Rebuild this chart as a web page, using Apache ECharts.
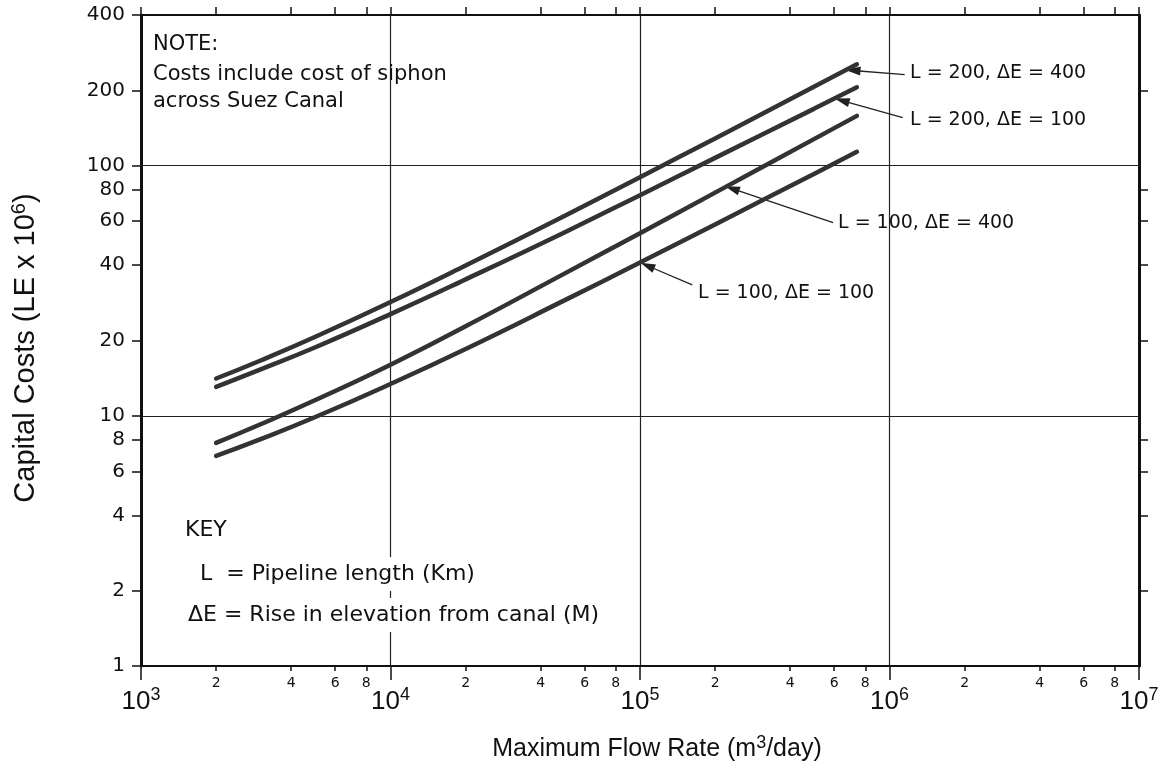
<!DOCTYPE html>
<html>
<head>
<meta charset="utf-8">
<script src="https://cdn.jsdelivr.net/npm/echarts@6/dist/echarts.min.js"></script>
<style>
html,body{margin:0;padding:0;background:#fff;}
#chart{width:1166px;height:769px;}
</style>
</head>
<body>
<div id="chart"></div>
<script>
// ---- data ----
const flowRates = [2000, 3000, 5000, 10000, 20000, 50000, 100000, 200000, 500000, 740000];
const costL200E400 = [14.1, 16.6, 20.7, 28.5, 39.9, 63.1, 89.9, 128.5, 207, 254];
const costL200E100 = [13.06, 15.3, 18.8, 25.5, 35.1, 54.2, 76.2, 107.4, 169, 205.6];
const costL100E400 = [7.8, 9.23, 11.56, 16.0, 22.8, 37.1, 53.7, 78.0, 127.9, 158.1];
const costL100E100 = [6.92, 8.05, 9.89, 13.4, 18.5, 29.0, 41.0, 58.2, 92.9, 113.5];
const seriesNames = ['L = 200, \u0394E = 400', 'L = 200, \u0394E = 100', 'L = 100, \u0394E = 400', 'L = 100, \u0394E = 100'];
// arrow [tail, tip] in data units (flow, cost)
const arrowTails = [[1.15e6, 231], [1.13e6, 155.6], [5.94e5, 59.2], [1.62e5, 33.4]];
const arrowTips = [[7.14e5, 240], [6.45e5, 182], [2.34e5, 80.9], [1.07e5, 39.8]];
// tick values
const xMinorTicks = [2e3, 4e3, 6e3, 8e3, 2e4, 4e4, 6e4, 8e4, 2e5, 4e5, 6e5, 8e5, 2e6, 4e6, 6e6, 8e6];
const xMajorTicks = [1e3, 1e4, 1e5, 1e6, 1e7];
const yLabelTicks = [1, 2, 4, 6, 8, 10, 20, 40, 60, 80, 100, 200, 400];
const yRightTicks = [2, 4, 6, 8, 20, 40, 60, 80, 200];

const FONT = 'Liberation Sans';
const DV = 'DejaVu Sans';
const chart = echarts.init(document.getElementById('chart'), null, {renderer: 'canvas'});

function mkSeries(name, vals, k) {
  return {
    name: name, type: 'line', xAxisIndex: 0, yAxisIndex: 0,
    data: flowRates.map((x, i) => [x, vals[i]]),
    showSymbol: false, symbol: 'none', smooth: 0.5,
    lineStyle: {color: '#333', width: 4.5, cap: 'round'},
    z: 5,
    markLine: {
      silent: true, animation: false,
      symbol: ['none', 'triangle'],
      symbolSize: [9, 15],
      lineStyle: {color: '#222', width: 1.3, type: 'solid'},
      label: {show: false},
      data: [[{coord: arrowTails[k]}, {coord: arrowTips[k]}]]
    }
  };
}

const option = {
  animation: false,
  backgroundColor: '#fff',
  grid: {left: 141, right: 27, top: 15, bottom: 103, containLabel: false},
  xAxis: [
    {
      type: 'log', logBase: 10, min: 1e3, max: 1e7, position: 'bottom',
      axisLine: {show: true, lineStyle: {color: '#111', width: 2}},
      axisTick: {show: true, length: 14, lineStyle: {color: '#111', width: 1.5}},
      axisLabel: {
        show: true, margin: 20, color: '#111',
        formatter: v => '{b|10}{s|' + Math.round(Math.log10(v)) + '}',
        rich: {
          b: {fontSize: 26, fontFamily: FONT, color: '#111'},
          s: {fontSize: 18, fontFamily: FONT, color: '#111', padding: [0, 0, 14, 0]}
        }
      },
      splitLine: {show: true, lineStyle: {color: '#222', width: 1.2}},
      name: 'Maximum Flow Rate (m{s|3}/day)', nameLocation: 'middle', nameGap: 68,
      nameTextStyle: {
        fontSize: 25, fontFamily: FONT, color: '#111', padding: [0, 0, 0, 34],
        rich: {s: {fontSize: 18, fontFamily: FONT, color: '#111', padding: [0, 0, 13, 0]}}
      }
    },
    {
      type: 'log', logBase: 10, min: 1e3, max: 1e7, position: 'bottom',
      axisLine: {show: false},
      axisTick: {show: true, length: 5, customValues: xMinorTicks, lineStyle: {color: '#111', width: 1.5}},
      axisLabel: {
        show: true, margin: 10, customValues: xMinorTicks, fontSize: 14, fontFamily: DV, color: '#111',
        formatter: v => String(Math.round(v / Math.pow(10, Math.floor(Math.log10(v) + 1e-9))))
      },
      splitLine: {show: false}
    },
    {
      type: 'log', logBase: 10, min: 1e3, max: 1e7, position: 'top',
      axisLine: {show: true, lineStyle: {color: '#111', width: 2}},
      axisTick: {show: true, length: 8, customValues: xMinorTicks.concat(xMajorTicks), lineStyle: {color: '#111', width: 1.5}},
      axisLabel: {show: false},
      splitLine: {show: false}
    }
  ],
  yAxis: [
    {
      type: 'log', logBase: 10, min: 1, max: 400, position: 'left',
      axisLine: {show: true, lineStyle: {color: '#111', width: 3}},
      axisTick: {show: false},
      axisLabel: {show: false},
      splitLine: {show: true, lineStyle: {color: '#222', width: 1.2}},
      name: 'Capital Costs (LE x 10{s|6})', nameLocation: 'middle', nameGap: 98,
      nameTextStyle: {
        fontSize: 29, fontFamily: FONT, color: '#111', padding: [0, 15, 0, 0],
        rich: {s: {fontSize: 20, fontFamily: FONT, color: '#111', padding: [0, 0, 14, 0]}}
      }
    },
    {
      type: 'log', logBase: 10, min: 1, max: 400, position: 'left',
      axisLine: {show: false},
      axisTick: {show: true, length: 9, customValues: yLabelTicks, lineStyle: {color: '#111', width: 1.5}},
      axisLabel: {show: true, margin: 16, customValues: yLabelTicks, fontSize: 20, fontFamily: DV, color: '#111'},
      splitLine: {show: false}
    },
    {
      type: 'log', logBase: 10, min: 1, max: 400, position: 'right',
      axisLine: {show: true, lineStyle: {color: '#111', width: 3}},
      axisTick: {show: true, length: 9, customValues: yRightTicks, lineStyle: {color: '#111', width: 1.5}},
      axisLabel: {show: false},
      splitLine: {show: false}
    }
  ],
  series: [
    mkSeries(seriesNames[0], costL200E400, 0),
    mkSeries(seriesNames[1], costL200E100, 1),
    mkSeries(seriesNames[2], costL100E400, 2),
    mkSeries(seriesNames[3], costL100E100, 3)
  ],
  graphic: [
    {type: 'text', x: 153, y: 45, z: 100, style: {text: 'NOTE:', font: '21px "DejaVu Sans"', fill: '#111', verticalAlign: 'middle'}},
    {type: 'text', x: 153, y: 75, z: 100, style: {text: 'Costs include cost of siphon', font: '21px "DejaVu Sans"', fill: '#111', verticalAlign: 'middle'}},
    {type: 'text', x: 153, y: 102, z: 100, style: {text: 'across Suez Canal', font: '21px "DejaVu Sans"', fill: '#111', verticalAlign: 'middle'}},
    {type: 'text', x: 185, y: 530, z: 100, style: {text: 'KEY', font: '22px "DejaVu Sans"', fill: '#111', verticalAlign: 'middle'}},
    {type: 'text', x: 196, y: 574, z: 100, style: {text: 'L  = Pipeline length (Km)', font: '22px "DejaVu Sans"', fill: '#111', verticalAlign: 'middle', backgroundColor: '#fff', padding: [6, 4, 6, 4]}},
    {type: 'text', x: 184, y: 615, z: 100, style: {text: '\u0394E = Rise in elevation from canal (M)', font: '22px "DejaVu Sans"', fill: '#111', verticalAlign: 'middle', backgroundColor: '#fff', padding: [6, 4, 6, 4]}},
    {type: 'text', x: 910, y: 73, z: 100, style: {text: seriesNames[0], font: '19px "DejaVu Sans"', fill: '#111', verticalAlign: 'middle'}},
    {type: 'text', x: 910, y: 120, z: 100, style: {text: seriesNames[1], font: '19px "DejaVu Sans"', fill: '#111', verticalAlign: 'middle'}},
    {type: 'text', x: 838, y: 223, z: 100, style: {text: seriesNames[2], font: '19px "DejaVu Sans"', fill: '#111', verticalAlign: 'middle'}},
    {type: 'text', x: 698, y: 293, z: 100, style: {text: seriesNames[3], font: '19px "DejaVu Sans"', fill: '#111', verticalAlign: 'middle'}}
  ]
};
chart.setOption(option);
</script>
</body>
</html>
